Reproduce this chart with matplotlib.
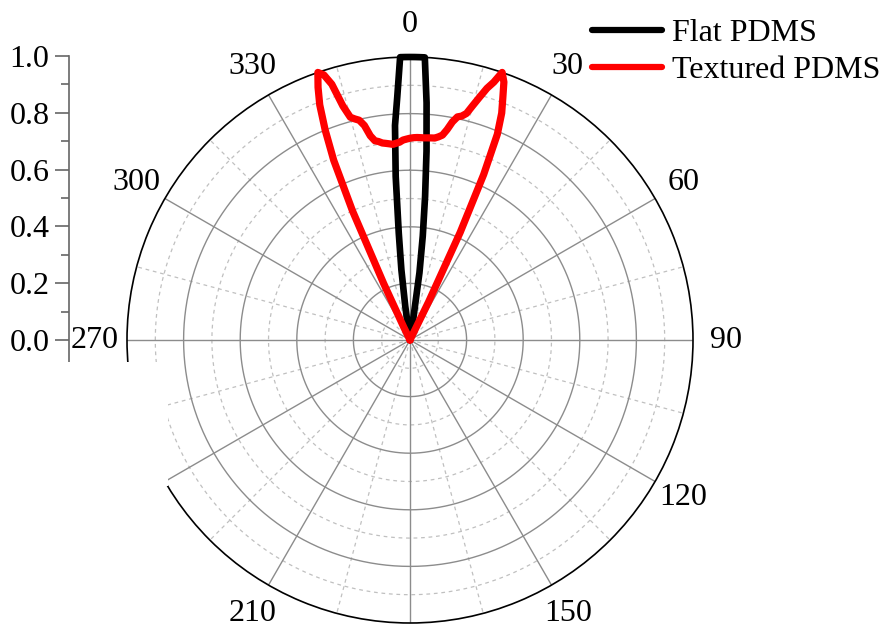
import numpy as np
import matplotlib
matplotlib.use("Agg")
import matplotlib.pyplot as plt
from matplotlib.patches import Rectangle

plt.rcParams['font.family'] = ['Liberation Serif', 'DejaVu Serif']

# ---------------- data ----------------
flat_angles = [-10, -9, -8, -7, -6, -5, -4, -3, -2, -1, 0, 1, 2, 3,
               4, 5, 6, 7, 8, 9, 10]
flat_values = [0.0, 0.02, 0.12, 0.25, 0.38, 0.58, 0.76, 0.86, 1.0, 1.0, 1.0, 1.0, 1.0, 1.0,
               0.84, 0.67, 0.51, 0.37, 0.24, 0.06, 0.0]

tex_angles = list(range(-27, 28))
tex_values = [0.0, 0.05, 0.22, 0.50, 0.69, 0.80, 0.89, 0.95, 1.0,
              0.985, 0.945, 0.86, 0.815, 0.805, 0.797, 0.775, 0.735, 0.715,
              0.71, 0.703, 0.70, 0.697, 0.694, 0.697, 0.70, 0.707, 0.71,
              0.713,
              0.715, 0.716, 0.716, 0.716, 0.717, 0.718, 0.719, 0.725, 0.733,
              0.755, 0.785, 0.806, 0.812, 0.825, 0.858, 0.893, 0.93, 0.958,
              1.0, 0.97, 0.915, 0.865, 0.79, 0.64, 0.42, 0.15, 0.0]

series_names = ["Flat PDMS", "Textured PDMS"]
series_colors = ["black", "red"]

angle_ticks = list(range(0, 360, 30))
angle_labels = ["0", "30", "60", "90", "120", "150", "", "210", "", "270", "300", "330"]
radial_ticks = [0.0, 0.2, 0.4, 0.6, 0.8, 1.0]
radial_labels = ["0.0", "0.2", "0.4", "0.6", "0.8", "1.0"]

FS = 23
W, H = 882, 630
fig = plt.figure(figsize=(W / 100, H / 100), dpi=100)

cx, cy, R = 410, 340, 283
ax = fig.add_axes([(cx - R) / W, (H - cy - R) / H, 2 * R / W, 2 * R / H], projection='polar')
ax.set_theta_zero_location('N')
ax.set_theta_direction(-1)
ax.set_ylim(0, 1)
ax.grid(False)
ax.set_yticks([])
ax.spines['polar'].set_linewidth(1.2)
ax.spines['polar'].set_color('black')

# grid
th = np.linspace(0, 2 * np.pi, 721)
for r in [0.1, 0.3, 0.5, 0.7, 0.9]:
    ax.plot(th, np.full_like(th, r), color='#c0c0c0', lw=0.9, ls=(0, (3, 3)), zorder=1)
for r in [0.2, 0.4, 0.6, 0.8]:
    ax.plot(th, np.full_like(th, r), color='#8c8c8c', lw=1.0, zorder=1.5)
for a in range(15, 360, 30):
    ax.plot([np.radians(a)] * 2, [0, 1], color='#c0c0c0', lw=0.9, ls=(0, (3, 3)), zorder=1)
for a in range(0, 360, 30):
    ax.plot([np.radians(a)] * 2, [0, 1], color='#8c8c8c', lw=1.0, zorder=1.5)

# theta ticks (marks only), labels as text
ax.set_xticks(np.radians(angle_ticks))
ax.set_xticklabels([])
ax.set_xticks(np.radians(list(range(15, 360, 30))), minor=True)
ax.tick_params(axis='x', which='major', direction='in', length=9, width=1.0, color='black')
ax.tick_params(axis='x', which='minor', direction='in', length=5, width=1.0, color='black')
for a, lab in zip(angle_ticks, angle_labels):
    if lab:
        ax.text(np.radians(a), 1.115, lab, fontsize=FS, ha='center', va='center', clip_on=False)

# series
lines = []
for ang, val, name, col, lw in [(flat_angles, flat_values, series_names[0], series_colors[0], 4.8),
                                 (tex_angles, tex_values, series_names[1], series_colors[1], 5.2)]:
    ln, = ax.plot(np.radians(ang), val, color=col, lw=lw, label=name, zorder=3,
                  solid_joinstyle='round', solid_capstyle='round', clip_on=False)
    lines.append(ln)

# left radial scale
y_top, y_zero, y_bot = 56, 340, 362
unit = (y_zero - y_top)
lo = -(y_bot - y_zero) / unit
axl = fig.add_axes([69 / W, (H - y_bot) / H, 0.0001, (y_bot - y_top) / H])
axl.set_ylim(lo, 1.0)
axl.set_xticks([])
for s in ['right', 'top', 'bottom']:
    axl.spines[s].set_visible(False)
axl.spines['left'].set_color('#666666')
axl.spines['left'].set_linewidth(1.2)
axl.set_yticks(radial_ticks)
axl.set_yticklabels(radial_labels, fontsize=FS)
axl.set_yticks([0.1, 0.3, 0.5, 0.7, 0.9], minor=True)
axl.tick_params(axis='y', which='major', direction='out', length=10, width=1.2, color='#666666', pad=4)
axl.tick_params(axis='y', which='minor', direction='out', length=6, width=1.2, color='#666666')
axl.patch.set_visible(False)

# white mask where the reference has a gap
fig.add_artist(Rectangle((0, (H - 486) / H), 168 / W, (486 - 362) / H, transform=fig.transFigure,
                         facecolor='white', edgecolor='none', zorder=5))

# legend
leg = fig.legend(handles=lines, labels=series_names, loc='upper left',
                 bbox_to_anchor=(592 / W, 1 - 19 / H), bbox_transform=fig.transFigure,
                 frameon=False, fontsize=FS, handlelength=2.2, handletextpad=0.3,
                 labelspacing=0.23, borderpad=0, borderaxespad=0)
for lh in leg.get_lines():
    lh.set_linewidth(4.5)
leg.set_zorder(6)

fig.savefig('out.png', dpi=100)
